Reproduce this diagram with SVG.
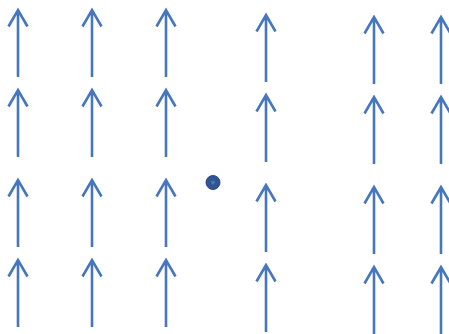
<svg xmlns="http://www.w3.org/2000/svg" width="449" height="334" viewBox="0 0 449 334">
<defs>
<style>
.a{fill:none;stroke:#4677BE;stroke-width:2.6;stroke-linecap:butt;stroke-linejoin:miter}
</style>
<g id="arr"><path class="a" d="M0,1 V68 M-9.5,17.5 L0,1 L9.5,17.5"/></g>
</defs>
<rect width="449" height="334" fill="#fff"/>
<g id="connectors">
<use href="#arr" x="18" y="9"/><use href="#arr" x="92" y="9"/><use href="#arr" x="166" y="9"/>
<use href="#arr" x="18" y="89"/><use href="#arr" x="92" y="89"/><use href="#arr" x="166" y="89"/>
<use href="#arr" x="18" y="179"/><use href="#arr" x="92" y="179"/><use href="#arr" x="166" y="179"/>
<use href="#arr" x="18" y="259"/><use href="#arr" x="92" y="259"/><use href="#arr" x="166" y="259"/>
<use href="#arr" x="266" y="14"/><use href="#arr" x="266" y="94"/><use href="#arr" x="266" y="184"/><use href="#arr" x="266" y="264"/>
<use href="#arr" x="374" y="16"/><use href="#arr" x="374" y="96"/><use href="#arr" x="374" y="186"/><use href="#arr" x="374" y="266"/>
<use href="#arr" x="441" y="16"/><use href="#arr" x="441" y="96"/><use href="#arr" x="441" y="186"/><use href="#arr" x="441" y="266"/>
</g>
<g id="dot">
<circle cx="213" cy="182.5" r="7" fill="#2F5592" stroke="#2A4C84" stroke-width="1"/>
<circle cx="213" cy="182.5" r="2" fill="#4A74B8"/>
</g>
</svg>
